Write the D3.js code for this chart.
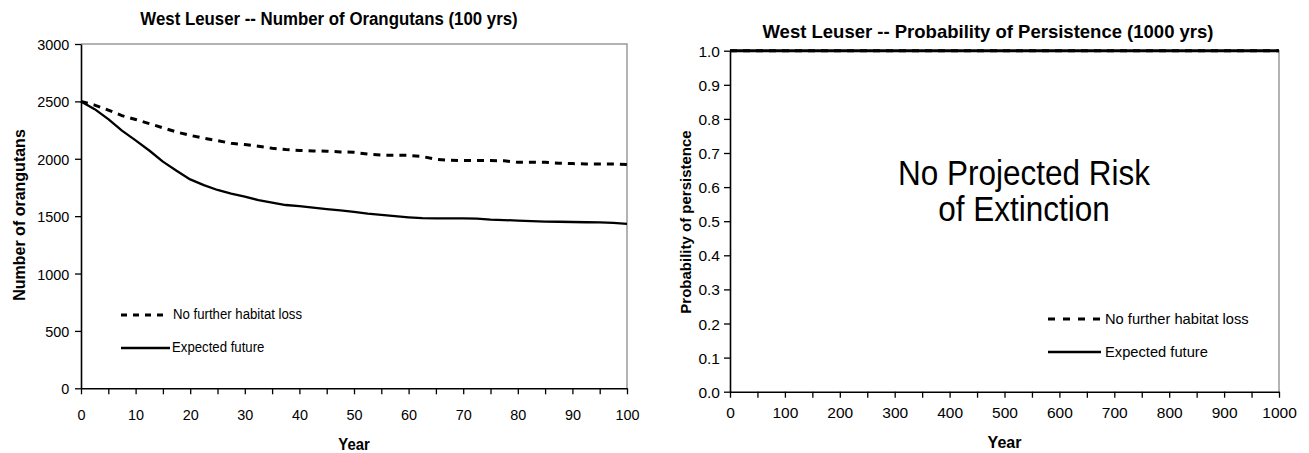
<!DOCTYPE html>
<html>
<head>
<meta charset="utf-8">
<script src="https://cdn.jsdelivr.net/npm/d3@7"></script>
<style>
  html, body { margin: 0; padding: 0; background: #fff; }
  svg { display: block; }
  text { font-family: "Liberation Sans", Arial, Helvetica, sans-serif; fill: #000; }
</style>
</head>
<body>
<svg id="chart" width="1309" height="453"></svg>
<script>
// ---------------- DATA ----------------
const leftTitle = "West Leuser -- Number of Orangutans (100 yrs)";
const rightTitle = "West Leuser -- Probability of Persistence (1000 yrs)";
const seriesNames = ["No further habitat loss", "Expected future"];

const years100 = [0,2.5,5,7.5,10,12.5,15,17.5,20,22.5,25,27.5,30,32.5,35,37.5,40,42.5,45,47.5,50,
                  52.5,55,57.5,60,62.5,65,67.5,70,72.5,75,77.5,80,82.5,85,87.5,90,92.5,95,97.5,100];
const noLossN = [2500,2468,2424,2376,2342,2306,2270,2233,2204,2179,2158,2135,2124,2109,2092,2080,2073,2068,2066,2060,2056,
                 2041,2032,2030,2030,2020,1995,1987,1985,1985,1984,1982,1969,1969,1969,1962,1958,1955,1955,1955,1951];
const expectedN = [2500,2432,2345,2245,2160,2072,1975,1895,1820,1770,1728,1696,1670,1640,1618,1597,1587,1574,1561,1550,1538,
                   1522,1512,1500,1490,1482,1481,1481,1480,1478,1470,1466,1461,1456,1453,1451,1449,1447,1445,1442,1432];

const years1000 = [0,100,200,300,400,500,600,700,800,900,1000];
const noLossP   = [1.0,1.0,1.0,1.0,1.0,1.0,1.0,1.0,1.0,1.0,1.0];
const expectedP = [1.0,1.0,1.0,1.0,1.0,1.0,1.0,1.0,1.0,1.0,1.0];

const leftYTicks = [0,500,1000,1500,2000,2500,3000];
const leftXTicks = [0,10,20,30,40,50,60,70,80,90,100];
const leftXMinor = [0,5,10,15,20,25,30,35,40,45,50,55,60,65,70,75,80,85,90,95,100];
const rightYTicks = [0,0.1,0.2,0.3,0.4,0.5,0.6,0.7,0.8,0.9,1.0];
const rightXTicks = [0,100,200,300,400,500,600,700,800,900,1000];
const rightXMinor = [0,50,100,150,200,250,300,350,400,450,500,550,600,650,700,750,800,850,900,950,1000];
const annotation = ["No Projected Risk", "of Extinction"];

// ---------------- DRAW ----------------
const svg = d3.select("#chart");
svg.append("rect").attr("width", 1309).attr("height", 453).attr("fill", "#fff");

function txt(g, x, y, s, o) {
  o = o || {};
  return g.append("text")
    .attr("transform", `translate(${x},${y}) rotate(${o.rotate || 0}) scale(${o.sx || 1},1)`)
    .attr("text-anchor", o.anchor || "middle")
    .attr("font-size", o.size || 15)
    .attr("font-weight", o.weight || "normal")
    .text(s);
}

function panel(cfg) {
  const g = svg.append("g");
  const x = d3.scaleLinear().domain(cfg.xDomain).range([cfg.x0, cfg.x1]);
  const y = d3.scaleLinear().domain(cfg.yDomain).range([cfg.y0, cfg.y1]);

  // gray frame (top & right)
  g.append("path")
    .attr("d", `M${cfg.x0},${cfg.y1}H${cfg.x1}V${cfg.y0}`)
    .attr("fill", "none").attr("stroke", "#9a9a9a").attr("stroke-width", 1.5);

  // minor x ticks
  const gxm = g.append("g").attr("transform", `translate(0,${cfg.y0})`)
    .call(d3.axisBottom(x).tickValues(cfg.xMinor).tickSizeInner(6).tickSizeOuter(0).tickFormat(""));
  gxm.select(".domain").remove();
  gxm.selectAll("line").attr("stroke", "#000").attr("stroke-width", 1.3);

  // x axis labels
  const gx = g.append("g").attr("transform", `translate(0,${cfg.y0})`)
    .call(d3.axisBottom(x).tickValues(cfg.xTicks).tickSizeInner(0).tickSizeOuter(0).tickFormat(d3.format("d")));
  gx.select(".domain").attr("stroke", "#000").attr("stroke-width", 1.6);
  gx.selectAll("text")
    .attr("y", cfg.xLabelBase).attr("dy", 0)
    .attr("font-size", cfg.tickSize)
    .attr("transform", `scale(${cfg.tickSx},1)`)
    .attr("x", 0);

  // y axis
  const gy = g.append("g").attr("transform", `translate(${cfg.x0},0)`)
    .call(d3.axisLeft(y).tickValues(cfg.yTicks).tickSizeInner(6).tickSizeOuter(0).tickFormat(cfg.yFormat));
  gy.select(".domain").attr("stroke", "#000").attr("stroke-width", 1.6);
  gy.selectAll("line").attr("stroke", "#000").attr("stroke-width", 1.3);
  gy.selectAll("text")
    .attr("x", -cfg.yLabelGap).attr("dy", "0.36em")
    .attr("font-size", cfg.tickSize)
    .attr("transform", `scale(${cfg.tickSx},1)`);
  g.selectAll("g").attr("font-family", null);
  g.selectAll(".tick text").style("font-family", '"Liberation Sans", Arial, sans-serif');

  // series
  const line = d3.line().x(d => x(d[0])).y(d => y(d[1]));
  const noLoss = cfg.xs.map((v, i) => [v, cfg.a[i]]);
  const expected = cfg.xs.map((v, i) => [v, cfg.b[i]]);
  g.append("path").datum(noLoss).attr("d", line)
    .attr("fill", "none").attr("stroke", "#000").attr("stroke-width", 3)
    .attr("stroke-dasharray", "7,6");
  g.append("path").datum(expected).attr("d", line)
    .attr("fill", "none").attr("stroke", "#000").attr("stroke-width", cfg.solidW)
    .attr("stroke-linejoin", "round");

  // legend
  const L = cfg.legend;
  g.append("line").attr("x1", L.x0).attr("x2", L.x1a).attr("y1", L.y1).attr("y2", L.y1)
    .attr("stroke", "#000").attr("stroke-width", 3).attr("stroke-dasharray", L.dash);
  txt(g, L.tx, L.y1 + L.base, seriesNames[0], { anchor: "start", size: L.size, sx: L.sx });
  g.append("line").attr("x1", L.x0).attr("x2", L.x1b).attr("y1", L.y2).attr("y2", L.y2)
    .attr("stroke", "#000").attr("stroke-width", 2.3);
  txt(g, L.tx2, L.y2 + L.base, seriesNames[1], { anchor: "start", size: L.size, sx: L.sx });

  // titles
  txt(g, cfg.titleX, cfg.titleY, cfg.title, { size: cfg.titleSize, weight: "bold", sx: cfg.titleSx });
  txt(g, (cfg.x0 + cfg.x1) / 2, cfg.xTitleY, "Year", { size: 16, weight: "bold", sx: cfg.tickSx });
  txt(g, cfg.yTitleX, cfg.yTitleY, cfg.yTitle, { size: cfg.yTitleSize, weight: "bold", rotate: -90, sx: cfg.yTitleSx });
  return { g, x, y };
}

panel({
  x0: 81, x1: 627, y0: 388.3, y1: 44,
  xDomain: [0, 100], yDomain: [0, 3000],
  xTicks: leftXTicks, xMinor: leftXMinor, yTicks: leftYTicks, yFormat: d3.format("d"),
  xLabelBase: 31.5, yLabelGap: 12.5, tickSize: 15.5, tickSx: 0.93,
  xs: years100, a: noLossN, b: expectedN, solidW: 2.3,
  legend: { x0: 121, x1a: 163, x1b: 170, y1: 315, y2: 348, tx: 173, tx2: 172, base: 3.5, size: 14.5, sx: 0.91, dash: "6,6" },
  title: leftTitle, titleX: 329, titleY: 25, titleSize: 18.5, titleSx: 0.91,
  xTitleY: 450,
  yTitle: "Number of orangutans", yTitleX: 25, yTitleY: 215, yTitleSize: 16, yTitleSx: 1.0
});

const right = panel({
  x0: 730, x1: 1279, y0: 391.7, y1: 50.7,
  xDomain: [0, 1000], yDomain: [0, 1],
  xTicks: rightXTicks, xMinor: rightXMinor, yTicks: rightYTicks, yFormat: d3.format(".1f"),
  xLabelBase: 26.5, yLabelGap: 10, tickSize: 15.5, tickSx: 1.0,
  xs: years1000, a: noLossP, b: expectedP, solidW: 3,
  legend: { x0: 1048, x1a: 1101, x1b: 1101, y1: 319, y2: 352, tx: 1105, tx2: 1105, base: 5, size: 14.7, sx: 1.0, dash: "7,8" },
  title: rightTitle, titleX: 988, titleY: 38, titleSize: 18.5, titleSx: 1.0,
  xTitleY: 448,
  yTitle: "Probability of persistence", yTitleX: 691, yTitleY: 222, yTitleSize: 15, yTitleSx: 1.0
});

// annotation
txt(right.g, 1024, 185, annotation[0], { size: 35, sx: 0.9 });
txt(right.g, 1024, 221, annotation[1], { size: 35, sx: 0.9 });
</script>
</body>
</html>
